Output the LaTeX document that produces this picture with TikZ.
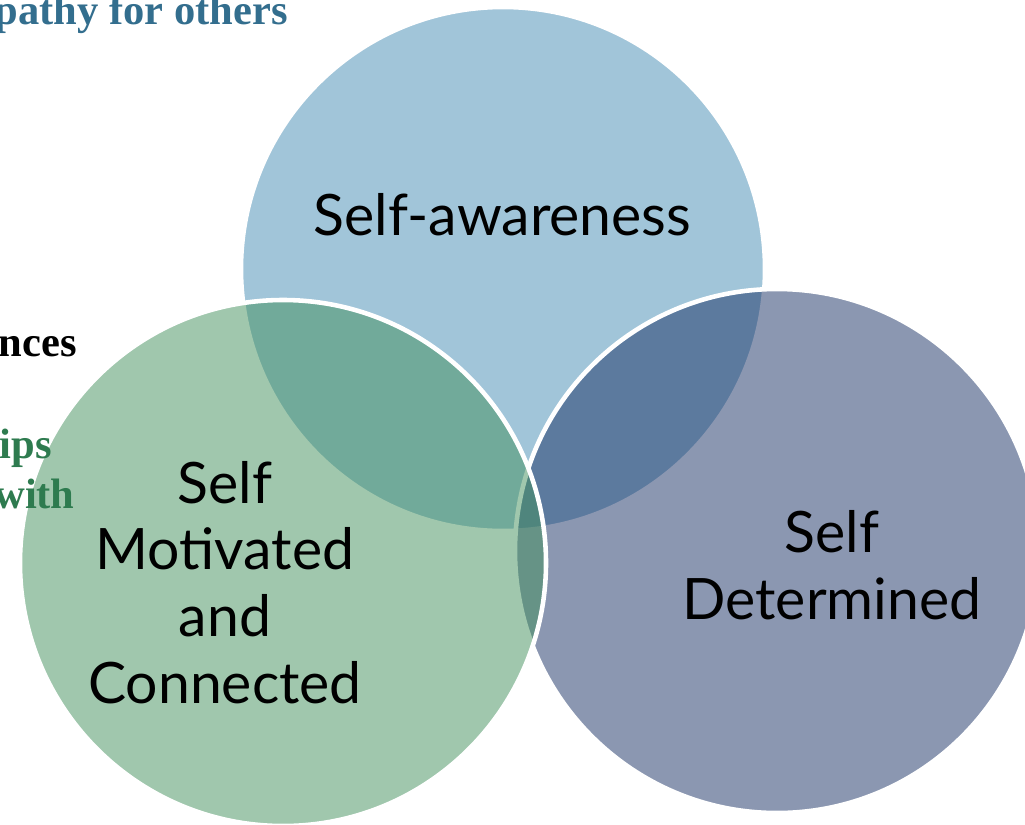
\documentclass[tikz,border=0pt]{standalone}
\usepackage{fontspec}
\setmainfont{Liberation Serif}
\newfontfamily\vennfont{Lato}
\usepackage{xcolor}
\definecolor{venn-blue}{HTML}{458DB5}
\definecolor{venn-slate}{HTML}{193165}
\definecolor{venn-green}{HTML}{43915D}
\definecolor{note-blue}{HTML}{336E8E}
\definecolor{note-green}{HTML}{2E7B4F}
\tikzset{
    venn/.style={fill opacity=0.5, draw=white, draw opacity=1, line width=2.6pt},
    venntext/.style={font=\vennfont\fontsize{32.5}{38}\selectfont, align=center, text=black},
    notetext/.style={font=\bfseries\fontsize{24.2}{26}\selectfont, anchor=base east, inner sep=0pt}
}
\begin{document}
\begin{tikzpicture}

    \useasboundingbox (0, 0) rectangle (20.5, -16.48);
    \clip (0, 0) rectangle (20.5, -16.48);
    \fill[white] (0, 0) rectangle (20.5, -16.48);

    % Notes behind
    \node[notetext, text=note-blue] (empathy) at (5.76, -0.48) {pathy for others};

    % Circles
    \filldraw[venn, fill=venn-blue] (10.06, -5.38) circle (5.24);
    \filldraw[venn, fill=venn-slate] (15.54, -11.02) circle (5.24);
    \filldraw[venn, fill=venn-green] (5.66, -11.26) circle (5.26);

    % Notes
    \node[notetext, text=black] (differences) at (1.54, -7.12) {nces};
    \node[notetext, text=note-green] (ships) at (1.04, -9.16) {ips};
    \node[notetext, text=note-green] (with) at (1.50, -10.16) {with};

    % Labels
    \node[venntext, anchor=base] (aware) at (10.05, -4.70) {Self-awareness};
    \node[venntext] (determined) at (16.64, -11.31) {Self\\Determined};
    \node[venntext] (motivated) at (4.50, -11.65) {Self\\Motivated\\and\\Connected};

\end{tikzpicture}
\end{document}
